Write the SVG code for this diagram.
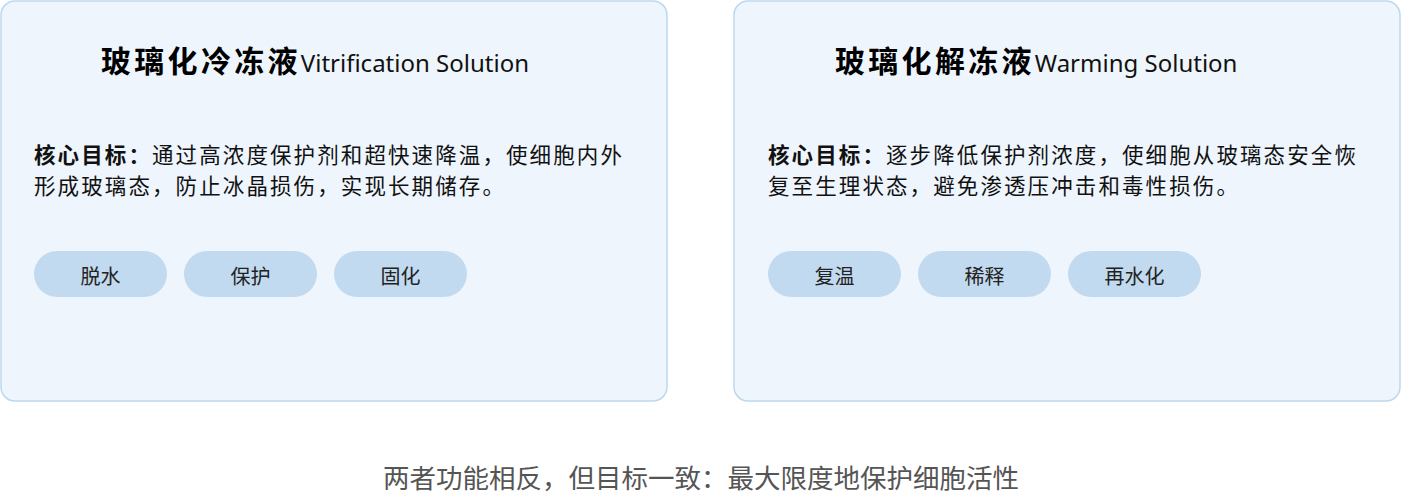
<svg xmlns="http://www.w3.org/2000/svg" width="1402" height="501" viewBox="0 0 1402 501">
<style>
.card{fill:#EEF5FC;stroke:#BDD7EE;stroke-width:1.5}
.pill{fill:#C2DAEF}
.cjk{font-family:"Noto Sans CJK SC","Noto Sans",sans-serif}
.t1{font-size:30px;font-weight:bold;fill:#000;letter-spacing:3.3px}
.t2{font-family:"Noto Sans","Noto Sans CJK SC",sans-serif;font-size:24px;font-weight:normal;fill:#111;letter-spacing:0}
.body{font-size:21.5px;fill:#111;letter-spacing:2.1px}
.b{font-weight:bold}
.pt{font-size:20px;fill:#222;text-anchor:middle}
.foot{font-size:26.5px;fill:#555;text-anchor:middle}
</style>
<rect width="1402" height="501" fill="#FFFFFF"/>
<g id="connectors"></g>
<g id="vitrification">
<rect class="card" x="1" y="1" width="666" height="400" rx="14"/>
<text class="cjk t1" x="101" y="72">玻璃化冷冻液<tspan class="t2">Vitrification Solution</tspan></text>
<text class="cjk body" x="34" y="162.5"><tspan class="b">核心目标：</tspan>通过高浓度保护剂和超快速降温，使细胞内外<tspan x="34" dy="31.3">形成玻璃态，防止冰晶损伤，实现长期储存。</tspan></text>
</g>
<g id="v-pill1"><rect class="pill" x="34" y="251" width="133" height="46" rx="23"/><text class="cjk pt" x="100.5" y="284">脱水</text></g>
<g id="v-pill2"><rect class="pill" x="184" y="251" width="133" height="46" rx="23"/><text class="cjk pt" x="250.5" y="284">保护</text></g>
<g id="v-pill3"><rect class="pill" x="334" y="251" width="133" height="46" rx="23"/><text class="cjk pt" x="400.5" y="284">固化</text></g>
<g id="warming">
<rect class="card" x="734" y="1" width="666" height="400" rx="14"/>
<text class="cjk t1" x="835" y="72">玻璃化解冻液<tspan class="t2">Warming Solution</tspan></text>
<text class="cjk body" x="768" y="162.5"><tspan class="b">核心目标：</tspan>逐步降低保护剂浓度，使细胞从玻璃态安全恢<tspan x="768" dy="31.3">复至生理状态，避免渗透压冲击和毒性损伤。</tspan></text>
</g>
<g id="w-pill1"><rect class="pill" x="768" y="251" width="133" height="46" rx="23"/><text class="cjk pt" x="834.5" y="284">复温</text></g>
<g id="w-pill2"><rect class="pill" x="918" y="251" width="133" height="46" rx="23"/><text class="cjk pt" x="984.5" y="284">稀释</text></g>
<g id="w-pill3"><rect class="pill" x="1068" y="251" width="133" height="46" rx="23"/><text class="cjk pt" x="1134.5" y="284">再水化</text></g>
<g id="footer"><text class="cjk foot" x="701" y="488">两者功能相反，但目标一致：最大限度地保护细胞活性</text></g>
</svg>
